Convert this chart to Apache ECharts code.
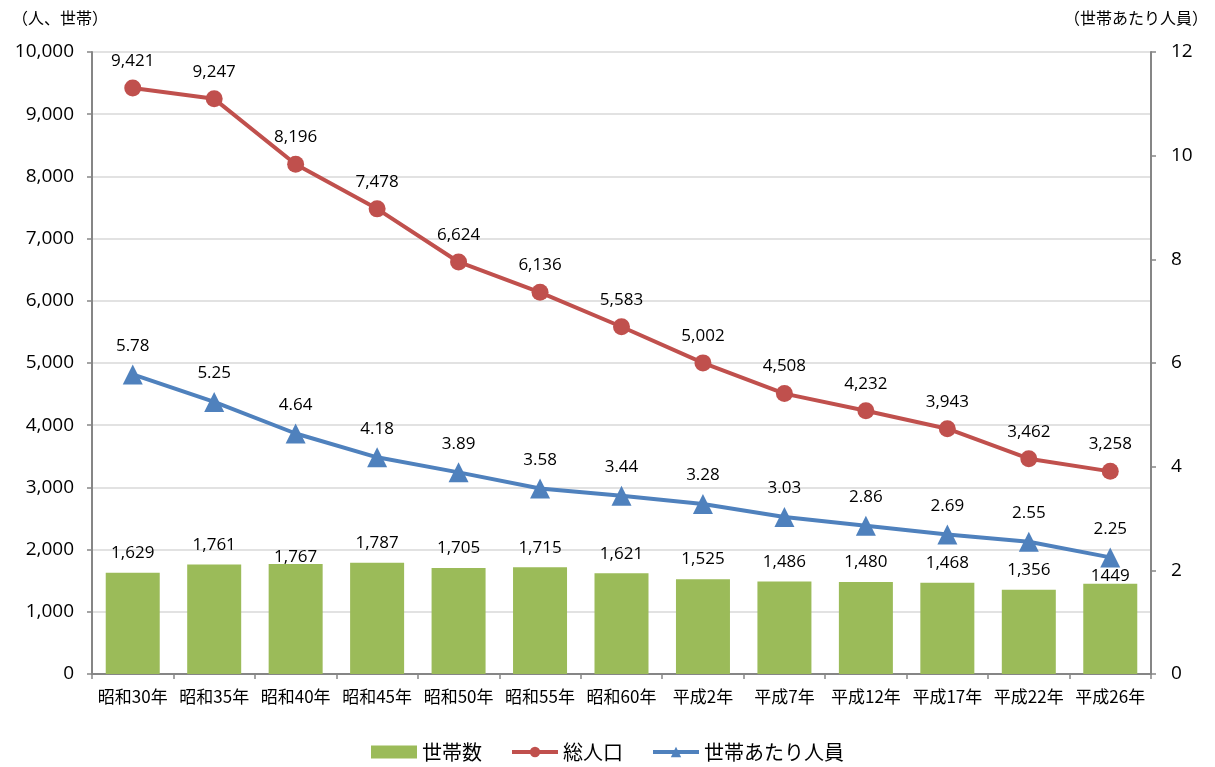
<!DOCTYPE html>
<html><head><meta charset="utf-8">
<script src="https://cdn.jsdelivr.net/npm/echarts@6/dist/echarts.min.js"></script>
<style>html,body{margin:0;padding:0;background:#fff}#c{width:1215px;height:767px}</style>
</head><body><div id="c"></div>
<script>
const categories = ['昭和30年','昭和35年','昭和40年','昭和45年','昭和50年','昭和55年','昭和60年','平成2年','平成7年','平成12年','平成17年','平成22年','平成26年'];
const households = [1629,1761,1767,1787,1705,1715,1621,1525,1486,1480,1468,1356,1449];
const population = [9421,9247,8196,7478,6624,6136,5583,5002,4508,4232,3943,3462,3258];
const perHousehold = [5.78,5.25,4.64,4.18,3.89,3.58,3.44,3.28,3.03,2.86,2.69,2.55,2.25];
const householdLabels = ['1,629','1,761','1,767','1,787','1,705','1,715','1,621','1,525','1,486','1,480','1,468','1,356','1449'];

const jp = '"Noto Sans CJK JP", sans-serif';
const num = '"Open Sans", "Noto Sans", sans-serif';
const barLabelDistance = {2: -2, 12: -1};
const chart = echarts.init(document.getElementById('c'));
chart.setOption({
  animation: false,
  grid: {left: 92, right: 64, top: 52, bottom: 93},
  legend: {
    bottom: 0, left: 'center', itemGap: 28, itemWidth: 46, itemHeight: 13,
    textStyle: {fontFamily: jp, fontSize: 20, color: '#000'},
    lineStyle: {width: 4},
    data: [
      {name: '世帯数', icon: 'rect', itemStyle: {}},
      {name: '総人口'},
      {name: '世帯あたり人員'}
    ]
  },
  xAxis: {
    type: 'category', data: categories,
    axisLine: {lineStyle: {color: '#868686', width: 2}},
    axisTick: {show: true, length: 5, lineStyle: {color: '#868686', width: 1.5}},
    axisLabel: {fontFamily: jp, fontSize: 17, color: '#000', margin: 14, interval: 0}
  },
  yAxis: [{
    type: 'value', min: 0, max: 10000, interval: 1000,
    name: '（人、世帯）', nameLocation: 'end', nameGap: 26,
    nameTextStyle: {fontFamily: jp, fontSize: 16, color: '#000', align: 'left', padding: [0, 0, 0, -80]},
    axisLine: {show: true, lineStyle: {color: '#868686', width: 2}},
    axisTick: {show: true, length: 5, lineStyle: {color: '#868686', width: 1.5}},
    splitLine: {lineStyle: {color: '#d9d9d9', width: 1.5}},
    axisLabel: {fontFamily: num, fontSize: 19, color: '#000', margin: 18,
      formatter: v => v.toLocaleString('en-US')}
  }, {
    type: 'value', min: 0, max: 12, interval: 2,
    name: '（世帯あたり人員）', nameLocation: 'end', nameGap: 26,
    nameTextStyle: {fontFamily: jp, fontSize: 16, color: '#000', align: 'right', padding: [0, -57, 0, 0]},
    axisLine: {show: true, lineStyle: {color: '#868686', width: 2}},
    axisTick: {show: true, length: 5, lineStyle: {color: '#868686', width: 1.5}},
    splitLine: {show: false},
    axisLabel: {fontFamily: num, fontSize: 19, color: '#000', margin: 20}
  }],
  series: [{
    name: '世帯数', type: 'bar', yAxisIndex: 0, barWidth: 54,
    data: households.map((v, i) => barLabelDistance[i] !== undefined
      ? {value: v, label: {distance: barLabelDistance[i]}} : v),
    itemStyle: {color: '#9BBB59'},
    label: {show: true, position: 'top', distance: 11, fontFamily: num, fontSize: 17, color: '#000',
      formatter: p => householdLabels[p.dataIndex]}
  }, {
    name: '総人口', type: 'line', data: population, yAxisIndex: 0,
    symbol: 'circle', symbolSize: 17,
    lineStyle: {color: '#C0504D', width: 4}, itemStyle: {color: '#C0504D'},
    label: {show: true, position: 'top', distance: 10, fontFamily: num, fontSize: 17, color: '#000',
      formatter: p => p.value.toLocaleString('en-US')}
  }, {
    name: '世帯あたり人員', type: 'line', data: perHousehold, yAxisIndex: 1,
    symbol: 'triangle', symbolSize: 20,
    lineStyle: {color: '#4F81BD', width: 4}, itemStyle: {color: '#4F81BD'},
    label: {show: true, position: 'top', distance: 10, fontFamily: num, fontSize: 17, color: '#000',
      formatter: p => p.value.toFixed(2)}
  }]
});
</script></body></html>
